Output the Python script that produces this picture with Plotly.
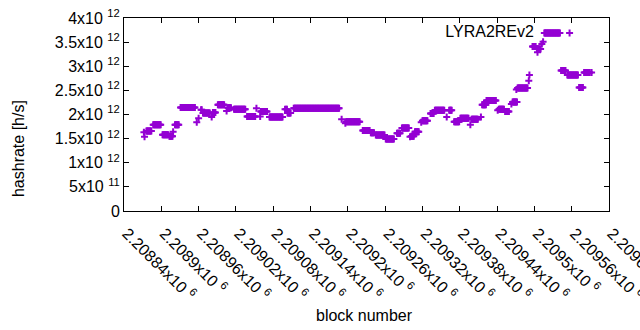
import numpy as np
import plotly.graph_objects as go

# run-length encoded data: each run = consecutive blocks with the same hashrate
seg_start = [2208872, 2208873, 2208876, 2208887, 2208902, 2208913, 2208919, 2208922, 2208931,
             2208957, 2208960, 2208964, 2208967, 2208981, 2208983, 2208991, 2209005, 2209007,
             2209017, 2209038, 2209053, 2209059, 2209060, 2209074, 2209099, 2209101, 2209103,
             2209113, 2209190, 2209196, 2209197, 2209224, 2209237, 2209245, 2209261, 2209279,
             2209287, 2209300, 2209302, 2209308, 2209318, 2209320, 2209333, 2209340, 2209359,
             2209363, 2209371, 2209381, 2209397, 2209399, 2209414, 2209416, 2209423, 2209441,
             2209443, 2209453, 2209463, 2209465, 2209471, 2209473, 2209491, 2209492, 2209497,
             2209504, 2209505, 2209512, 2209514, 2209516, 2209543, 2209553, 2209572, 2209580,
             2209592]
seg_end = [2208872, 2208873, 2208884, 2208899, 2208911, 2208918, 2208919, 2208928, 2208954,
           2208957, 2208960, 2208965, 2208978, 2208981, 2208987, 2209001, 2209005, 2209012,
           2209035, 2209051, 2209053, 2209059, 2209070, 2209095, 2209099, 2209102, 2209108,
           2209186, 2209190, 2209196, 2209219, 2209235, 2209242, 2209259, 2209274, 2209284,
           2209298, 2209300, 2209306, 2209314, 2209318, 2209328, 2209338, 2209355, 2209359,
           2209367, 2209379, 2209394, 2209397, 2209409, 2209414, 2209422, 2209438, 2209441,
           2209451, 2209459, 2209463, 2209472, 2209471, 2209489, 2209491, 2209492, 2209502,
           2209510, 2209505, 2209512, 2209514, 2209541, 2209550, 2209570, 2209578, 2209589,
           2209592]
seg_value = [1.63e12, 1.54e12, 1.66e12, 1.79e12, 1.58e12, 1.55e12, 1.64e12, 1.79e12, 2.145e12,
             1.84e12, 1.92e12, 2.10e12, 2.03e12, 1.95e12, 2.04e12, 2.20e12, 2.07e12, 2.14e12,
             2.11e12, 1.96e12, 2.13e12, 1.96e12, 2.06e12, 1.95e12, 2.11e12, 2.11e12, 2.03e12,
             2.13e12, 1.90e12, 1.82e12, 1.85e12, 1.67e12, 1.62e12, 1.575e12, 1.49e12, 1.61e12,
             1.72e12, 1.54e12, 1.55e12, 1.64e12, 1.84e12, 1.87e12, 2.02e12, 2.09e12, 1.95e12,
             2.09e12, 1.85e12, 1.92e12, 1.79e12, 1.90e12, 1.95e12, 2.20e12, 2.29e12, 2.09e12,
             2.11e12, 2.06e12, 2.22e12, 2.26e12, 2.52e12, 2.55e12, 2.70e12, 2.82e12, 3.41e12,
             3.36e12, 3.29e12, 3.46e12, 3.51e12, 3.69e12, 2.91e12, 2.82e12, 2.56e12, 2.87e12,
             2.87e12]

x_tickvals = [2208840, 2208900, 2208960, 2209020, 2209080, 2209140, 2209200,
              2209260, 2209320, 2209380, 2209440, 2209500, 2209560, 2209620]
x_ticklabels = ["2.20884", "2.2089", "2.20896", "2.20902", "2.20908", "2.20914", "2.2092",
                "2.20926", "2.20932", "2.20938", "2.20944", "2.2095", "2.20956", "2.2096"]
y_tickvals = [0, 0.5e12, 1e12, 1.5e12, 2e12, 2.5e12, 3e12, 3.5e12, 4e12]
y_ticklabels = ["0", "5x10 <sup>11</sup>", "1x10 <sup>12</sup>", "1.5x10 <sup>12</sup>",
                "2x10 <sup>12</sup>", "2.5x10 <sup>12</sup>", "3x10 <sup>12</sup>",
                "3.5x10 <sup>12</sup>", "4x10 <sup>12</sup>"]

blocks, rates = [], []
for s, e, v in zip(seg_start, seg_end, seg_value):
    for b in range(s, e + 1):
        blocks.append(b)
        rates.append(v)

COLOR = "#9400D3"
FONT = "Liberation Sans, Arial, sans-serif"
FS = 16

fig = go.Figure()
fig.add_trace(go.Scatter(
    x=blocks, y=rates, mode="markers", name=" ",
    marker=dict(symbol="cross-thin", size=5, color=COLOR,
                line=dict(color=COLOR, width=2)),
    showlegend=True, hoverinfo="skip",
))

axis_common = dict(showline=True, linecolor="black", linewidth=1, mirror="ticks",
                   ticks="inside", ticklen=5, tickcolor="black", tickwidth=1,
                   showgrid=False, zeroline=False, automargin=False,
                   tickfont=dict(family=FONT, size=FS, color="black"))

fig.update_layout(
    width=640, height=330,
    margin=dict(l=124, r=31, t=18, b=119),
    paper_bgcolor="white", plot_bgcolor="white",
    font=dict(family=FONT, size=FS, color="black"),
    xaxis=dict(range=[2208840, 2209620], tickvals=x_tickvals,
               ticktext=[t + "x10 <sup>6</sup>" for t in x_ticklabels],
               tickangle=45, ticklabeloverflow="allow",
               ticklabelstandoff=6, ticklabelshift=3,
               **axis_common),
    yaxis=dict(range=[0, 4e12], tickvals=y_tickvals, ticktext=y_ticklabels,
               **axis_common),
    legend=dict(orientation="h", x=0.98, xanchor="right", y=1.01, yanchor="top",
                bgcolor="rgba(0,0,0,0)", borderwidth=0,
                title=dict(text="LYRA2REv2\u00a0\u2009", side="left",
                           font=dict(family=FONT, size=FS, color="black")),
                font=dict(family=FONT, size=FS), itemwidth=30),
    annotations=[
        dict(text="block number", xref="paper", yref="paper", x=0.495, y=-0.544,
             xanchor="center", yanchor="middle", showarrow=False,
             font=dict(family=FONT, size=FS, color="black")),
        dict(text="hashrate [h/s]", xref="paper", yref="paper", x=-0.2186, y=0.326,
             xanchor="center", yanchor="middle", textangle=-90, showarrow=False,
             font=dict(family=FONT, size=FS, color="black")),
    ],
)

fig.write_html("out.html", config={"displayModeBar": False},
               post_script="document.body.style.margin='0';")
